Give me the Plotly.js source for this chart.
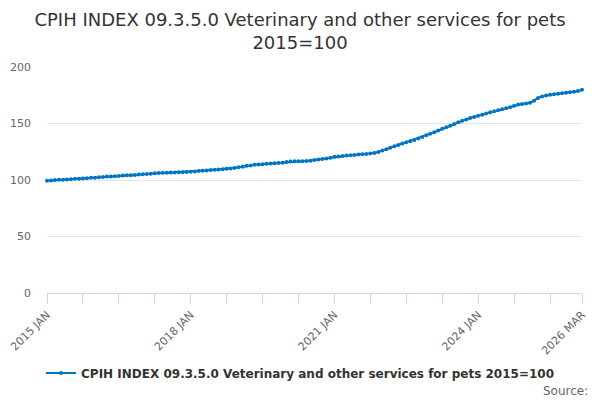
<!DOCTYPE html>
<html>
<head>
<meta charset="utf-8">
<script src="https://cdn.plot.ly/plotly-3.0.1.min.js"></script>
<style>
  html, body { margin: 0; padding: 0; background: #fff; }
  #chart { width: 600px; height: 400px; }
</style>
</head>
<body>
<div id="chart"></div>
<script>
// monthly index values, 2015 JAN .. 2026 MAR
const years = [2015, 2016, 2017, 2018, 2019, 2020, 2021, 2022, 2023, 2024, 2025, 2026];
const monthNames = ['JAN', 'FEB', 'MAR', 'APR', 'MAY', 'JUN', 'JUL', 'AUG', 'SEP', 'OCT', 'NOV', 'DEC'];

const values2015 = [99.4, 99.6, 99.9, 100.2, 100.3, 100.5, 100.7, 101.0, 101.1, 101.3, 101.6, 101.9];
const values2016 = [102.1, 102.4, 102.7, 103.0, 103.2, 103.4, 103.6, 103.9, 104.1, 104.3, 104.5, 104.8];
const values2017 = [105.0, 105.3, 105.6, 105.9, 106.2, 106.4, 106.5, 106.6, 106.7, 106.8, 106.9, 107.0];
const values2018 = [107.2, 107.5, 107.9, 108.2, 108.5, 108.8, 109.1, 109.4, 109.6, 109.9, 110.2, 110.6];
const values2019 = [111.2, 111.8, 112.5, 112.9, 113.4, 113.7, 114.0, 114.3, 114.6, 114.8, 115.0, 115.3];
const values2020 = [116.0, 116.3, 116.5, 116.6, 116.7, 116.8, 117.1, 117.6, 118.1, 118.6, 119.1, 119.6];
const values2021 = [120.5, 120.9, 121.3, 121.6, 121.9, 122.2, 122.5, 122.8, 123.1, 123.5, 124.0, 124.8];
const values2022 = [126.0, 127.2, 128.5, 129.8, 131.0, 132.2, 133.3, 134.3, 135.5, 136.8, 138.0, 139.5];
const values2023 = [141.0, 142.3, 143.8, 145.3, 146.6, 148.0, 149.5, 151.0, 152.4, 153.6, 154.8, 155.8];
const values2024 = [156.8, 157.8, 158.9, 159.9, 160.8, 161.7, 162.6, 163.5, 164.4, 165.6, 166.8, 167.3];
const values2025 = [167.8, 168.4, 170.2, 172.6, 174.0, 174.8, 175.4, 175.9, 176.3, 176.8, 177.2, 177.6];
const values2026 = [178.0, 178.7, 179.8];

const values = [].concat(values2015, values2016, values2017, values2018, values2019, values2020,
  values2021, values2022, values2023, values2024, values2025, values2026);

// category labels like "2015 JAN"
const categories = [];
years.forEach((yr) => {
  monthNames.forEach((m) => {
    if (categories.length < values.length) categories.push(`${yr} ${m}`);
  });
});

// ticks every 9 months, only some of them labelled
const labelled = ['2015 JAN', '2018 JAN', '2021 JAN', '2024 JAN', '2026 MAR'];
const tickVals = categories.filter((c, i) => i % 9 === 0 || i === categories.length - 1);
const tickText = tickVals.map((c) => (labelled.includes(c) ? c : ''));

const seriesName = 'CPIH INDEX 09.3.5.0 Veterinary and other services for pets 2015=100';
const font = 'DejaVu Sans, Verdana, sans-serif';

const trace = {
  type: 'scatter',
  mode: 'lines+markers',
  name: seriesName,
  x: categories,
  y: values,
  cliponaxis: false,
  line: { color: '#0075c2', width: 2 },
  marker: { color: '#0075c2', size: 4 },
  hoverinfo: 'x+y',
};

const layout = {
  width: 600,
  height: 400,
  paper_bgcolor: '#fff',
  plot_bgcolor: '#fff',
  font: { family: font, color: '#666', size: 11 },
  margin: { l: 47, r: 18, t: 67, b: 107 },
  title: {
    text: 'CPIH INDEX 09.3.5.0 Veterinary and other services for pets<br>2015=100',
    font: { family: font, size: 18, color: '#333' },
    x: 0.5,
    xanchor: 'center',
    y: 0.935,
    yref: 'container',
    yanchor: 'top',
  },
  showlegend: true,
  legend: {
    orientation: 'h',
    x: 0.473,
    xanchor: 'center',
    y: -0.354,
    yanchor: 'middle',
    font: { family: font, size: 12, color: '#333', weight: 'bold' },
  },
  xaxis: {
    type: 'category',
    range: [0, categories.length - 1],
    tickvals: tickVals,
    ticktext: tickText,
    tickangle: -45,
    ticks: 'outside',
    ticklen: 10,
    tickcolor: '#ccd6eb',
    showline: true,
    linecolor: '#ccd6eb',
    linewidth: 1,
    showgrid: false,
    zeroline: false,
    tickfont: { family: font, size: 11, color: '#666' },
  },
  yaxis: {
    range: [0, 200],
    tickvals: [0, 50, 100, 150, 200],
    showgrid: true,
    gridcolor: '#e6e6e6',
    zeroline: false,
    showline: false,
    ticks: '',
    ticklabelstandoff: 15,
    tickfont: { family: font, size: 11, color: '#666' },
  },
  annotations: [{
    text: 'Source:',
    xref: 'paper',
    yref: 'paper',
    x: 1.015,
    y: -0.434,
    xanchor: 'right',
    yanchor: 'middle',
    showarrow: false,
    font: { family: font, size: 12, color: '#666' },
  }],
};

Plotly.newPlot('chart', [trace], layout, { displayModeBar: false, staticPlot: false });
</script>
</body>
</html>
